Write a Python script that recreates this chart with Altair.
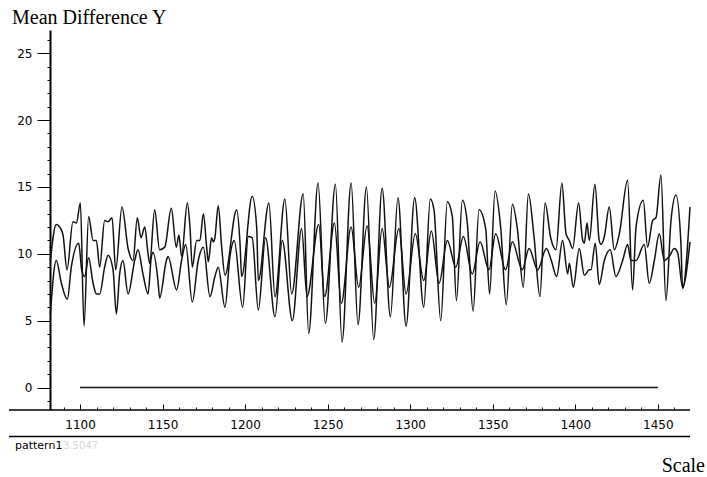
import altair as alt
import pandas as pd

# Upper trace (series A)
a_scale = [1082, 1085.6, 1087.7, 1089.7, 1092.1, 1095.7, 1097.8, 1100.2, 1102.4, 1105.2,
           1107.9, 1109.9, 1111.9, 1114.9, 1116.9, 1119.4, 1121.6, 1125.4, 1129.1, 1132.1,
           1134.7, 1136.9, 1139.2, 1141.2, 1142.2, 1145.2, 1148.2, 1151.3, 1155.3, 1158.3,
           1159.9, 1161.5, 1165.0, 1166.6, 1168.0, 1170.6, 1172.6, 1174.7, 1176.7, 1177.7,
           1179.7, 1180.7, 1181.7, 1183.7, 1185.8, 1187.8, 1194.9, 1196.9, 1197.9, 1204.3,
           1207.0, 1208.0, 1214.4, 1218.1, 1224.1, 1228.2, 1235.2, 1238.5, 1244.2, 1248.6,
           1254.7, 1258.7, 1264.2, 1268.4, 1273.5, 1277.9, 1283.0, 1288.0, 1292.6, 1297.5,
           1302.7, 1308.2, 1312.2, 1314.4, 1318.5, 1322.5, 1325.5, 1328.0, 1331.6, 1334.6,
           1338.1, 1341.7, 1345.7, 1348.1, 1351.4, 1354.8, 1358.2, 1361.9, 1364.9, 1368.5,
           1371.6, 1375.0, 1378.6, 1381.7, 1385.1, 1388.3, 1391.9, 1394.4, 1396.4, 1398.4,
           1402.0, 1404.5, 1405.5, 1407.1, 1408.5, 1411.9, 1414.5, 1415.6, 1417.6, 1420.6,
           1423.6, 1426.7, 1431.7, 1434.7, 1436.8, 1441.2, 1443.8, 1446.9, 1448.9, 1451.9,
           1454.9, 1458.0, 1461.0, 1464.0, 1465.0, 1469.5]
a_diff = [9.5, 12.2, 12.0, 11.4, 8.8, 12.4, 12.3, 13.8, 4.6, 12.8,
          11.0, 11.0, 9.0, 12.5, 12.4, 12.7, 8.8, 13.5, 10.4, 9.5,
          12.7, 11.2, 12.0, 10.0, 9.3, 13.3, 10.3, 10.5, 13.4, 10.5,
          11.4, 9.8, 13.8, 12.0, 9.0, 11.0, 11.0, 13.0, 10.5, 9.4,
          11.2, 10.9, 11.2, 13.6, 10.5, 8.4, 13.3, 10.8, 8.3, 14.3,
          12.0, 8.0, 13.8, 6.8, 14.1, 7.0, 14.5, 4.05, 15.3, 4.8,
          15.2, 3.4, 15.3, 4.7, 15.0, 3.6, 14.9, 5.3, 14.2, 4.6,
          14.2, 6.0, 14.1, 13.3, 5.0, 13.9, 12.8, 6.5, 14.0, 12.3,
          5.7, 13.3, 11.9, 7.0, 14.7, 12.0, 6.2, 13.7, 11.9, 7.5,
          14.5, 11.3, 6.8, 13.8, 11.2, 10.3, 15.3, 11.5, 11.0, 10.4,
          13.8, 11.0, 10.8, 12.3, 11.0, 15.2, 11.0, 10.7, 11.3, 13.5,
          10.3, 11.5, 15.5, 7.3, 12.0, 14.0, 10.5, 12.5, 12.7, 15.9,
          6.5, 12.5, 14.4, 10.8, 7.4, 13.5]

# Lower trace (series B)
b_scale = [1082, 1085.6, 1088.7, 1092.3, 1094.7, 1099.2, 1101.0, 1102.8, 1105.2, 1107.9,
           1109.9, 1111.9, 1114.9, 1117.0, 1120.0, 1122.0, 1124.0, 1126.0, 1129.1, 1133.1,
           1135.1, 1138.1, 1141.2, 1143.2, 1144.2, 1147.2, 1148.2, 1152.3, 1153.3, 1158.5,
           1161.5, 1164.0, 1168.0, 1171.6, 1174.7, 1178.7, 1181.7, 1183.7, 1187.8, 1190.8,
           1193.4, 1198.5, 1201.9, 1204.3, 1208.0, 1212.4, 1218.1, 1222.5, 1228.6, 1234.2,
           1237.5, 1244.6, 1248.2, 1254.1, 1258.3, 1264.2, 1268.8, 1273.9, 1278.5, 1283.0,
           1287.4, 1293.1, 1297.5, 1303.1, 1308.2, 1312.8, 1317.5, 1322.5, 1327.6, 1332.2,
           1337.6, 1342.3, 1347.7, 1351.8, 1357.8, 1361.9, 1367.9, 1372.0, 1377.2, 1382.5,
           1385.5, 1388.7, 1392.3, 1395.4, 1396.4, 1398.8, 1402.4, 1405.5, 1408.5, 1409.5,
           1412.1, 1414.5, 1417.6, 1421.2, 1424.6, 1428.7, 1431.7, 1433.7, 1436.8, 1441.8,
           1444.8, 1447.9, 1450.9, 1453.9, 1456.9, 1460.0, 1462.0, 1465.0, 1469.5]
b_diff = [5.5, 9.5, 7.8, 6.6, 9.0, 10.8, 8.8, 8.3, 9.7, 7.8,
          7.0, 7.0, 9.0, 9.9, 8.8, 5.5, 8.5, 9.5, 7.0, 9.5,
          10.3, 8.5, 7.0, 9.8, 10.1, 8.0, 6.7, 9.5, 9.8, 7.3,
          9.5, 10.7, 6.4, 9.5, 10.5, 6.8, 8.3, 9.0, 6.0, 9.8,
          11.0, 6.0, 11.3, 11.2, 5.8, 11.2, 5.3, 11.0, 5.0, 11.9,
          6.8, 12.2, 6.8, 12.3, 6.3, 12.0, 7.5, 12.1, 6.3, 11.9,
          7.5, 11.9, 7.0, 11.5, 8.0, 11.7, 7.8, 11.0, 9.0, 11.3,
          8.5, 10.9, 8.8, 11.5, 8.8, 10.9, 8.8, 10.4, 8.8, 10.4,
          9.5, 8.3, 11.0, 8.5, 9.3, 7.5, 10.4, 8.4, 8.8, 8.8,
          10.8, 7.7, 9.5, 10.3, 8.3, 9.5, 10.7, 9.5, 9.5, 10.7,
          7.8, 9.5, 11.5, 9.5, 9.8, 10.4, 10.1, 7.5, 10.9]

zero_scale = [1100, 1450]
zero_diff = [0, 0]

y_tick_values = list(range(-1, 27))
x_tick_values = list(range(1090, 1470, 10))
x_label_values = list(range(1100, 1451, 50))

title_text = ["Mean Difference Y"]
pattern_text = ["pattern1"]
faint_text = ["3.5047"]
xlabel_text = ["Scale"]

W, H = 640, 380

df = pd.concat([
    pd.DataFrame({"scale": a_scale, "diff": a_diff, "series": "A"}),
    pd.DataFrame({"scale": b_scale, "diff": b_diff, "series": "B"}),
])
zero_df = pd.DataFrame({"scale": zero_scale, "diff": zero_diff})

xs = alt.Scale(domain=[1081.8, 1469.5], nice=False, zero=False)
ys = alt.Scale(domain=[-1.68, 26.74], nice=False, zero=False)

y_axis = alt.Axis(
    values=y_tick_values, title=None, grid=False,
    labelExpr="datum.value % 5 === 0 ? datum.label : ''",
    tickSize={"condition": {"test": "datum.value % 5 === 0", "value": 13}, "value": 3},
    tickColor="black", tickWidth=1, domainColor="black", domainWidth=2,
    labelFont="DejaVu Sans", labelFontSize=12, labelColor="black", labelPadding=5,
)
y_enc = alt.Y("diff:Q", scale=ys, axis=y_axis)

lines = alt.Chart(df).mark_line(color="#111", strokeWidth=1.5, interpolate="monotone").encode(
    x=alt.X("scale:Q", scale=xs, axis=alt.Axis(
        orient="bottom", values=x_label_values, title=None, grid=False,
        ticks=False, tickSize=0, domain=False, labelPadding=9,
        labelFont="DejaVu Sans", labelFontSize=12, labelColor="black", format="d")),
    y=y_enc,
    detail="series:N",
)

zero_line = alt.Chart(zero_df).mark_line(color="#111", strokeWidth=1.5).encode(
    x=alt.X("scale:Q", scale=xs, axis=alt.Axis(
        orient="top", offset=-H, values=x_tick_values, title=None, grid=False,
        labels=False, domain=False, tickColor="black",
        tickSize={"condition": {"test": "datum.value % 50 === 0", "value": 6}, "value": 3})),
    y=y_enc,
)

frame_df = pd.DataFrame({"k": [0]})
rule_axis = alt.Chart(frame_df).mark_rule(color="black", strokeWidth=1.6).encode(
    x=alt.value(-41), x2=alt.value(W), y=alt.value(H))
rule_low = alt.Chart(frame_df).mark_rule(color="black", strokeWidth=1.4).encode(
    x=alt.value(-41), x2=alt.value(W), y=alt.value(406.5))

title = alt.Chart(pd.DataFrame({"t": title_text})).mark_text(
    font="Liberation Serif", fontSize=20, align="left", baseline="alphabetic", color="black"
).encode(x=alt.value(-38), y=alt.value(-6), text="t:N")

pattern = alt.Chart(pd.DataFrame({"t": pattern_text})).mark_text(
    font="DejaVu Sans", fontSize=11, align="left", baseline="alphabetic", color="black"
).encode(x=alt.value(-35), y=alt.value(419), text="t:N")

faint = alt.Chart(pd.DataFrame({"t": faint_text})).mark_text(
    font="DejaVu Sans", fontSize=10, align="left", baseline="alphabetic", color="#d8d8d8"
).encode(x=alt.value(13), y=alt.value(419), text="t:N")

xlabel = alt.Chart(pd.DataFrame({"t": xlabel_text})).mark_text(
    font="Liberation Serif", fontSize=20, align="right", baseline="alphabetic", color="black"
).encode(x=alt.value(655), y=alt.value(442), text="t:N")

chart = alt.layer(
    lines, zero_line, rule_axis, rule_low, title, pattern, faint, xlabel
).resolve_axis(x="independent").properties(
    width=W, height=H,
    autosize=alt.AutoSizeParams(type="none"),
    padding={"left": 50, "top": 30, "right": 17, "bottom": 67},
    background="white",
).configure_view(stroke=None)

chart.save("out.html", embed_options={"renderer": "svg", "actions": False})
